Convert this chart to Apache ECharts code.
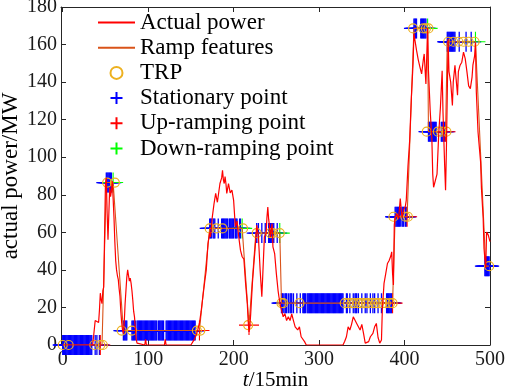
<!DOCTYPE html>
<html><head><meta charset="utf-8">
<script src="https://cdn.jsdelivr.net/npm/echarts@6/dist/echarts.min.js"></script>
<style>html,body{margin:0;padding:0;background:#fff}#c{width:505px;height:392px}</style>
</head><body><div id="c"></div>
<script>
// ---- data ----
const xTicks = [0, 100, 200, 300, 400, 500];

const powerT = [0,10,20,30,35,36,38,40,42,43,44,45,46,47,48,50,51,52,53,55,56,57,58,59,60,61,62,63,64,65,66,67,68,69,70,71,72,73,74,75,76,77,78,79,80,81,82,83,84,85,86,87,88,96,97,98,119,120,121,150,152,154,156,158,160,162,164,166,168,170,172,173,175,177,179,181,182,184,186,187,188,189,190,191,192,194,196,198,200,202,204,206,208,210,212,214,216,217,218,219,220,222,224,225,226,227,229,231,233,234,236,238,239,240,241,242,243,245,246,248,250,252,253,255,258,260,262,264,266,268,270,272,275,277,279,281,283,285,328,330,332,334,336,338,340,342,344,346,348,350,352,354,356,358,360,363,365,367,369,371,373,374,376,378,380,382,384,385,386,387,388,389,391,393,395,397,399,401,402,404,406,408,410,411,413,414,416,418,420,422,423,425,427,428,430,432,433,434,436,438,440,442,444,445,447,448,449,451,452,454,456,457,459,460,462,463,465,467,469,471,473,475,477,479,480,482,483,484,486,487,489,490,492,493,494,495,496,498,500];
const powerV = [0,0,0,0,0,4,13,12,12,18.6,27.6,24,22,29,31,86,89,70,56,84,79,82,87.5,78,68,55,45,40,37,35,30,26,18,12,8,6,12,22,29,36,40,37,34,35.6,33,29,24,18,15,9,3,1,0,0,3,0,0,3,0,0,1,3,5,8,11.6,18,25.7,33,40,54,60,57.5,68,75,80.7,76,75,86,89,93,88,86,89.7,86,80.7,86,81,82.5,77,63,66,57.6,50.5,47,45.7,32.8,22,13,7,10,16.7,33,45,50.5,57,63.8,57.6,40,25.7,36,57.6,59.4,68,73.5,67,62.9,57.6,64.6,52.3,48.7,38,29,25.7,20.4,15,16.7,13,15,13,16.5,13,9.7,8,9.7,4.4,4.4,1.8,0,0,2,4.4,9.7,8,11,15,16,11.5,12,8,11,6.2,1,0,1.8,4.4,6.2,9.7,11.5,4,1,2.7,18.6,32.8,38,43.4,45,47.5,49.6,38,32,64,68,70,67,78,68,72,74,77,95,109,132,150,165.7,160,157,152,148,144.4,152,155,139,169,146,125,109,91,84,83,91,112.5,126.7,146,124,94.8,82.4,104.6,163,145.6,140,127.6,140,148.9,143.5,133,145.6,149,150.6,156,152.5,145.6,138,136.5,142.7,149,154,161,134.7,113.4,108,97.5,83.3,67.5,51.4,46,41,60.2,58.5,55];

const rampT = [0,46,51,59,71,160,172,210,218,226,254,256,386,389,403,411,427,428,448,450,483,495,499];
const rampV = [0,0,86.5,86.5,7.7,7.7,62.1,62.1,10.6,59.6,59.6,22.3,22.3,68.3,68.3,168.6,168.6,113.6,113.6,161.5,161.5,42,42];

const trpT = [0,7,37,44,47,52,61,69,81,157,161,172,180,187,211,217,227,243,246,254,256,258,277,330,334,338,341,345,348,352,355,358,362,366,370,374,378,383,386,387,401,404,410,422,425,428,426,439,443,449,451,457,463,469,475,482,499];
const trpV = [0,0,0,0,0,86.5,86.5,7.7,7.7,7.7,7.7,62.1,62.1,62.1,62.1,10.6,59.6,59.6,59.6,59.6,22.3,22.3,22.3,22.3,22.3,22.3,22.3,22.3,22.3,22.3,22.3,22.3,22.3,22.3,22.3,22.3,22.3,22.3,22.3,68.3,68.3,68.3,168.6,168.6,168.6,168.6,113.6,113.6,113.6,113.6,161.5,161.5,161.5,161.5,161.5,161.5,42];

// stationary runs: start, end (inclusive), level
const statStart = [0,38,40,43, 51, 71,81,87,112,121, 172,176,182,186,189,195,202,207, 227,229,233,237,241,251, 256,260,264,266,270,274,278,281,286,332,336,340,342,346,350,354,356,360,363,365,369,373,379, 389,397,401, 411,419, 428,443, 450,464,472,478, 494];
const statEnd   = [34,38,40,43, 57, 75,85,110,118,155, 174,178,182,188,193,200,204,208, 227,229,233,237,247,251, 258,262,264,268,270,274,278,284,328,333,336,340,344,346,350,354,356,360,363,365,369,373,385, 395,399,402, 414,425, 437,447, 459,464,472,478, 499];
const statLevel = [0,0,0,0, 86.5, 7.7,7.7,7.7,7.7,7.7, 62.1,62.1,62.1,62.1,62.1,62.1,62.1,62.1, 59.6,59.6,59.6,59.6,59.6,59.6, 22.3,22.3,22.3,22.3,22.3,22.3,22.3,22.3,22.3,22.3,22.3,22.3,22.3,22.3,22.3,22.3,22.3,22.3,22.3,22.3,22.3,22.3,22.3, 68.3,68.3,68.3, 168.6,168.6, 113.6,113.6, 161.5,161.5,161.5,161.5, 42];

const upT = [44,160,218,386,403,448];
const upV = [0,7.7,10.6,22.3,68.3,113.6];
const downT = [59,210,254,427,483];
const downV = [86.5,62.1,59.6,168.6,161.5];

// ---- build ----
const zip = (a, b) => a.map((t, i) => [t, b[i]]);
const statData = [];
statStart.forEach((s, i) => { for (let t = s; t <= statEnd[i]; t++) statData.push([t, statLevel[i]]); });

const FONT = '"Liberation Serif","Times New Roman",serif';
const AX = '#262626';
const PLUS = 'path://M0,-10L0,10M-10,0L10,0';

const chart = echarts.init(document.getElementById('c'), null, {renderer: 'canvas'});
const plusSeries = (name, data, color, z, bw) => ({
  name, type: 'scatter', data, symbol: PLUS, symbolSize: 20, symbolKeepAspect: true, clip: false, z,
  itemStyle: {color: 'rgba(0,0,0,0)', borderColor: color, borderWidth: bw, opacity: 1},
  emphasis: {disabled: true}
});
chart.setOption({
  animation: false,
  backgroundColor: '#fff',
  grid: {left: 61, right: 15, top: 7, bottom: 47, containLabel: false, outerBoundsMode: 'none'},
  legend: {
    orient: 'vertical', left: 97, top: 11, padding: 0, itemWidth: 37, itemHeight: 12, itemGap: 2.2,
    textStyle: {fontFamily: FONT, fontSize: 23, color: '#000', lineHeight: 23},
    data: [
      {name: 'Actual power', itemStyle: {opacity: 0}},
      {name: 'Ramp features', itemStyle: {opacity: 0}},
      'TRP', 'Stationary point', 'Up-ramping point', 'Down-ramping point'
    ]
  },
  xAxis: [{
    type: 'value', min: -2, max: 500, position: 'bottom',
    name: '{i|t}/15min', nameLocation: 'middle', nameGap: 25, nameMoveOverlap: false,
    nameTextStyle: {fontFamily: FONT, fontSize: 21, color: '#000', rich: {i: {fontFamily: FONT, fontSize: 21, fontStyle: 'italic', color: '#000'}}},
    axisLine: {onZero: false, lineStyle: {color: AX, width: 1}},
    axisTick: {inside: true, length: 5, customValues: xTicks, lineStyle: {color: AX}},
    axisLabel: {customValues: xTicks, fontFamily: FONT, fontSize: 20, color: '#1a1a1a', margin: 5},
    splitLine: {show: false}
  }, {
    type: 'value', min: -2, max: 500, position: 'top',
    axisLine: {onZero: false, lineStyle: {color: AX, width: 1}},
    axisTick: {inside: true, length: 5, customValues: xTicks, lineStyle: {color: AX}},
    axisLabel: {show: false}, splitLine: {show: false}
  }],
  yAxis: [{
    type: 'value', min: 0, max: 180, interval: 20, position: 'left',
    name: 'actual power/MW', nameLocation: 'middle', nameGap: 39, nameMoveOverlap: false,
    nameTextStyle: {fontFamily: FONT, fontSize: 23, color: '#000'},
    axisLine: {show: true, onZero: false, lineStyle: {color: AX, width: 1}},
    axisTick: {show: true, inside: true, length: 5, lineStyle: {color: AX}},
    axisLabel: {fontFamily: FONT, fontSize: 20, color: '#1a1a1a', margin: 4},
    splitLine: {show: false}
  }, {
    type: 'value', min: 0, max: 180, interval: 20, position: 'right',
    axisLine: {show: true, onZero: false, lineStyle: {color: AX, width: 1}},
    axisTick: {show: true, inside: true, length: 5, lineStyle: {color: AX}},
    axisLabel: {show: false}, splitLine: {show: false}
  }],
  series: [
    {name: 'Actual power', type: 'line', data: zip(powerT, powerV), symbol: 'none', z: 6,
     lineStyle: {color: '#ff0000', width: 1.2}, itemStyle: {color: '#ff0000'}},
    {name: 'Ramp features', type: 'line', data: zip(rampT, rampV), symbol: 'none', z: 4,
     lineStyle: {color: '#D95319', width: 1.1}, itemStyle: {color: '#D95319'}},
    {name: 'TRP', type: 'scatter', data: zip(trpT, trpV), symbol: 'circle', symbolSize: 9, clip: false, z: 5,
     itemStyle: {color: 'rgba(0,0,0,0)', borderColor: '#EDB120', borderWidth: 1.2, opacity: 1}},
    plusSeries('Stationary point', statData, '#0000ff', 2, 1.3),
    plusSeries('Up-ramping point', zip(upT, upV), '#ff0000', 3, 1.1),
    plusSeries('Down-ramping point', zip(downT, downV), '#00ff00', 3, 1.1)
  ]
});
</script>
</body></html>
